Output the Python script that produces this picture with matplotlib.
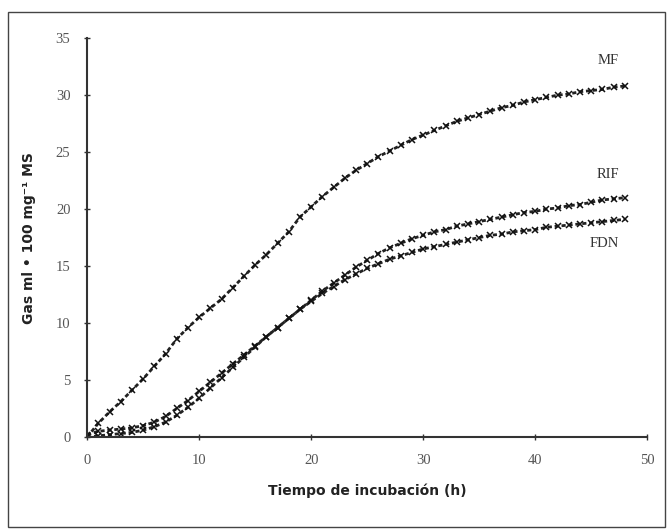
import numpy as np
import matplotlib.pyplot as plt
from matplotlib.patches import Rectangle

# incubation time (h) and cumulative gas (ml / 100 mg MS)
hours = list(range(0, 49))
mf = [0.0, 1.2, 2.2, 3.1, 4.1, 5.1, 6.2, 7.3, 8.6, 9.6, 10.5, 11.3, 12.1, 13.1,
      14.1, 15.1, 16.0, 17.0, 18.0, 19.3, 20.2, 21.1, 21.9, 22.7, 23.4, 24.0,
      24.6, 25.1, 25.6, 26.1, 26.5, 26.9, 27.3, 27.7, 28.0, 28.3, 28.6, 28.9,
      29.1, 29.4, 29.6, 29.8, 30.0, 30.1, 30.3, 30.4, 30.5, 30.7, 30.8]
rif = [0.2, 0.5, 0.6, 0.7, 0.8, 1.0, 1.3, 1.8, 2.5, 3.2, 4.0, 4.8, 5.6, 6.4,
       7.2, 8.0, 8.8, 9.6, 10.4, 11.2, 12.0, 12.8, 13.5, 14.2, 14.9, 15.5,
       16.1, 16.6, 17.0, 17.4, 17.7, 18.0, 18.2, 18.5, 18.7, 18.9, 19.1, 19.3,
       19.5, 19.7, 19.8, 20.0, 20.1, 20.3, 20.4, 20.6, 20.8, 20.9, 21.0]
fdn = [0.0, 0.1, 0.2, 0.3, 0.4, 0.6, 0.9, 1.3, 1.9, 2.6, 3.4, 4.3, 5.2, 6.1,
       7.0, 7.9, 8.8, 9.6, 10.4, 11.2, 11.9, 12.6, 13.2, 13.8, 14.3, 14.8,
       15.2, 15.6, 15.9, 16.2, 16.5, 16.7, 16.9, 17.1, 17.3, 17.5, 17.7, 17.8,
       18.0, 18.1, 18.2, 18.4, 18.5, 18.6, 18.7, 18.8, 18.9, 19.0, 19.1]
series = [('MF', mf), ('RIF', rif), ('FDN', fdn)]
label_y = {'MF': 33.0, 'RIF': 23.0, 'FDN': 17.0}

fig = plt.figure(figsize=(6.7, 5.3), dpi=100)
fig.patches.append(Rectangle((0.012, 0.005), 0.98, 0.972, transform=fig.transFigure,
                             fill=False, edgecolor='#444444', linewidth=1.0))
ax = fig.add_axes([0.130, 0.1755, 0.836, 0.7525])

for name, vals in series:
    ax.plot(hours, vals, color='#222222', linestyle=(0, (1.5, 1.0)), linewidth=2.0)
    ax.plot(hours, vals, linestyle='none', marker='x', markersize=4.5,
            markeredgewidth=1.1, color='#111111')
    ax.text(47.5, label_y[name], name, ha='right', va='center', fontsize=10.5,
            family='Liberation Serif', color='#333333')

ax.set_xlim(0, 50)
ax.set_ylim(0, 35)
ax.set_xticks(range(0, 51, 10))
ax.set_yticks(range(0, 36, 5))
for s in ['top', 'right']:
    ax.spines[s].set_visible(False)
for s in ['left', 'bottom']:
    ax.spines[s].set_color('#333333')
    ax.spines[s].set_linewidth(1.5)
ax.tick_params(direction='inout', length=4, width=1, colors='#333333',
               labelcolor='#555555', labelsize=10.5, pad=10)
for lab in ax.get_xticklabels() + ax.get_yticklabels():
    lab.set_family('Liberation Serif')

ax.set_xlabel('Tiempo de incubación (h)', fontsize=10, fontweight='bold',
              color='#222222', labelpad=12)
ax.set_ylabel('Gas ml • 100 mg⁻¹ MS', fontsize=10, fontweight='bold',
              color='#222222', labelpad=14)

fig.savefig('out.png', dpi=100)
